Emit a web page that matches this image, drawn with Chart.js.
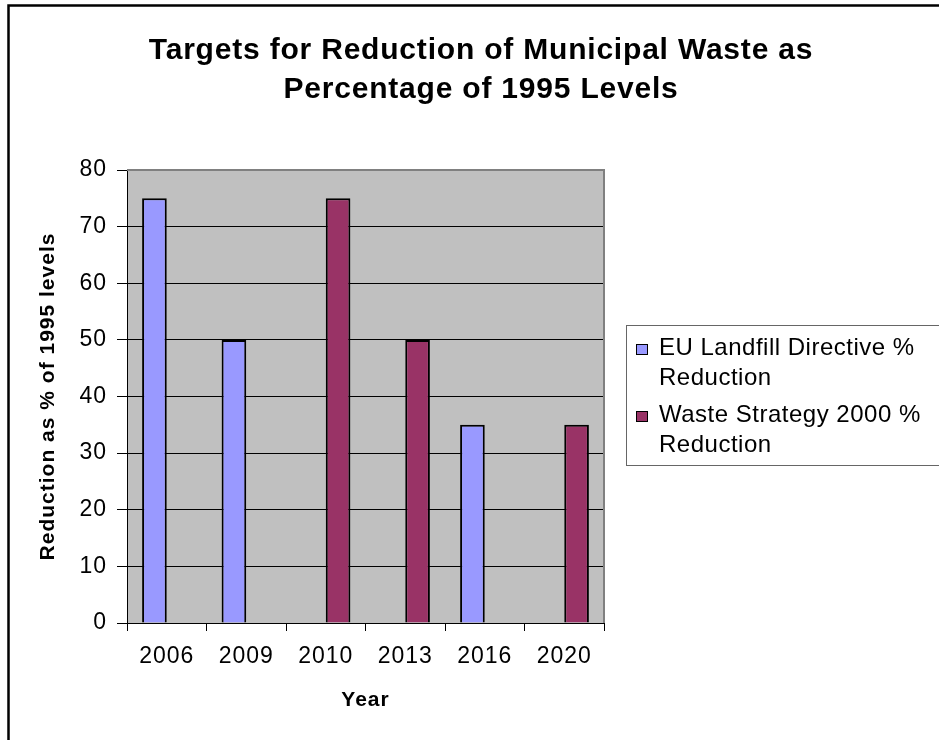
<!DOCTYPE html>
<html><head><meta charset="utf-8">
<script src="https://cdn.jsdelivr.net/npm/chart.js@4.4.1/dist/chart.umd.min.js"></script>
<style>html,body{margin:0;padding:0;background:#fff}#wrap{width:939px;height:740px;position:relative}</style>
</head><body><div id="wrap"><canvas id="c" width="939" height="740"></canvas></div>
<script>
const TITLE_LINES = ['Targets for Reduction of Municipal Waste as', 'Percentage of 1995 Levels'];
const CATEGORIES = ['2006', '2009', '2010', '2013', '2016', '2020'];
const EU_VALUES = [75, 50, null, null, 35, null];
const WS_VALUES = [null, null, 75, 50, null, 35];
const SERIES_NAMES = ['EU Landfill Directive % Reduction', 'Waste Strategy 2000 % Reduction'];
const LEGEND_LINES = [['EU Landfill Directive %', 'Reduction'], ['Waste Strategy 2000 %', 'Reduction']];
const Y_MIN = 0, Y_MAX = 80, Y_STEP = 10;
const X_TITLE = 'Year';
const Y_TITLE = 'Reduction as % of 1995 levels';
const COLORS = ['#9999FF', '#993366'];

const FONT = "'Liberation Sans', Arial, sans-serif";

const deco = {
  id: 'deco',
  beforeLayout(chart) { chart.ctx.letterSpacing = '1px'; },
  beforeDraw(chart) {
    const ctx = chart.ctx, a = chart.chartArea;
    ctx.letterSpacing = '1px';
    ctx.save();
    ctx.fillStyle = '#fff';
    ctx.fillRect(0, 0, chart.width, chart.height);
    ctx.fillStyle = '#C0C0C0';
    ctx.fillRect(a.left, a.top, a.right - a.left, a.bottom - a.top);
    ctx.restore();
  },
  afterDraw(chart) {
    const ctx = chart.ctx, a = chart.chartArea;
    ctx.save();
    // plot area border (top & right)
    ctx.strokeStyle = '#808080';
    ctx.lineWidth = 2;
    ctx.beginPath();
    ctx.moveTo(a.left, a.top);
    ctx.lineTo(a.right, a.top);
    ctx.lineTo(a.right, a.bottom);
    ctx.stroke();
    // outer frame
    ctx.strokeStyle = '#000';
    ctx.lineWidth = 2.5;
    ctx.strokeRect(8.5, 5.5, 1000, 1000);
    // title
    ctx.fillStyle = '#000';
    ctx.letterSpacing = '0.8px';
    ctx.font = "bold 30px " + FONT;
    ctx.textAlign = 'center';
    ctx.textBaseline = 'alphabetic';
    ctx.fillText(TITLE_LINES[0], 481, 59);
    ctx.fillText(TITLE_LINES[1], 481, 98);
    // legend
    ctx.letterSpacing = '0.5px';
    ctx.fillStyle = '#fff';
    ctx.fillRect(626.5, 325.5, 330, 140);
    ctx.strokeStyle = '#666';
    ctx.lineWidth = 1;
    ctx.strokeRect(626.5, 325.5, 330, 140);
    ctx.font = "24px " + FONT;
    ctx.textAlign = 'left';
    const baseY = [355, 422];
    chart.data.datasets.forEach((ds, i) => {
      const y = baseY[i];
      ctx.fillStyle = ds.backgroundColor;
      ctx.fillRect(636.5, y - 10.5, 11, 10);
      ctx.strokeStyle = '#000';
      ctx.lineWidth = 1;
      ctx.strokeRect(636.5, y - 10.5, 11, 10);
      ctx.fillStyle = '#000';
      LEGEND_LINES[i].forEach((t, j) => ctx.fillText(t, 659, y + j * 30));
    });
    ctx.restore();
  }
};

new Chart(document.getElementById('c'), {
  type: 'bar',
  data: {
    labels: CATEGORIES,
    datasets: [
      { label: SERIES_NAMES[0], data: EU_VALUES, backgroundColor: COLORS[0], borderColor: '#000', borderWidth: 2 },
      { label: SERIES_NAMES[1], data: WS_VALUES, backgroundColor: COLORS[1], borderColor: '#000', borderWidth: 2 }
    ]
  },
  options: {
    responsive: false,
    animation: false,
    devicePixelRatio: 1,
    layout: { padding: { left: 0, top: 170, right: 335, bottom: 0 } },
    datasets: { bar: { categoryPercentage: 0.62, barPercentage: 1.0 } },
    plugins: { legend: { display: false }, title: { display: false }, tooltip: { enabled: false } },
    scales: {
      x: {
        grid: { offset: true, drawOnChartArea: false, drawTicks: true, tickLength: 8, color: '#000', lineWidth: 1 },
        border: { color: '#000', width: 1 },
        ticks: { color: '#000', font: { family: FONT, size: 23 }, padding: 12, maxRotation: 0 },
        title: { display: true, text: X_TITLE, color: '#000', font: { family: FONT, size: 21, weight: 'bold' }, padding: { top: 0, bottom: 27 } },
        afterFit(s) { s.height = 117; }
      },
      y: {
        min: Y_MIN, max: Y_MAX,
        ticks: { stepSize: Y_STEP, color: '#000', font: { family: FONT, size: 23 }, padding: 10 },
        grid: { color: '#000', lineWidth: 1, tickLength: 10, drawTicks: true },
        border: { color: '#000', width: 1 },
        title: { display: true, text: Y_TITLE, color: '#000', font: { family: FONT, size: 21, weight: 'bold' }, padding: { top: 36, bottom: 0 } },
        afterFit(s) { s.width = 127; }
      }
    }
  },
  plugins: [deco]
});
</script>
</body></html>
